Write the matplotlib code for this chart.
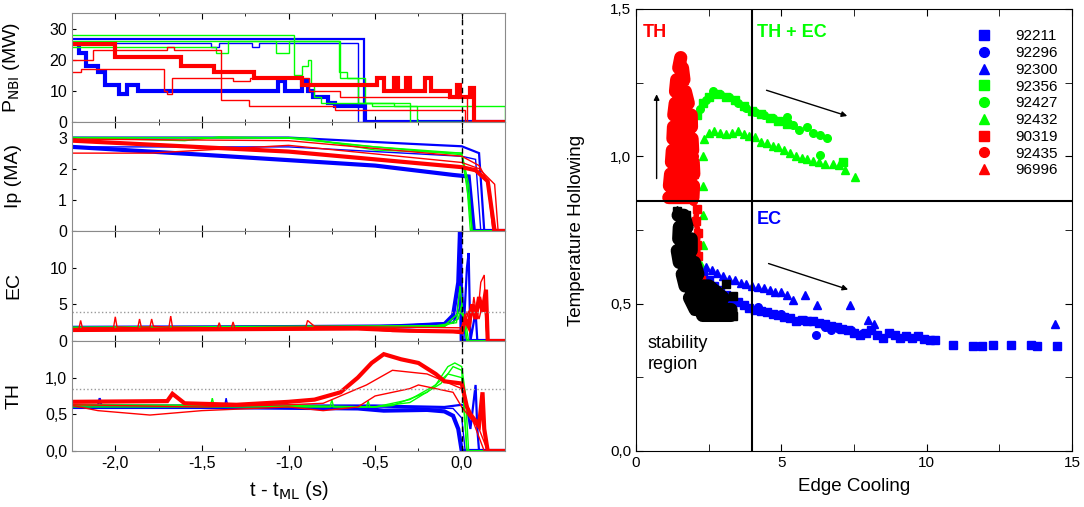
import numpy as np
import matplotlib
matplotlib.use("Agg")
import matplotlib.pyplot as plt
from matplotlib.lines import Line2D
from matplotlib.ticker import FuncFormatter, MultipleLocator

plt.rcParams['font.family'] = ['Liberation Sans', 'DejaVu Sans']
plt.rcParams['axes.unicode_minus'] = False

BLUE, GREEN, RED = '#0000ff', '#00ff00', '#ff0000'

# ---------------- left: time traces (t - t_ML in s) ----------------
# P_NBI (MW), step traces
nbi_t_b1 = [-2.25, -2.21, -2.17, -2.10, -2.06, -1.98, -1.93, -1.87, -1.06, -1.02, -0.92, -0.89, -0.86, -0.77, -0.73, -0.56, 0.25]
nbi_b1 = [25, 22, 18, 16, 12, 9, 12, 10, 13, 10, 13, 10, 8, 6, 5, 0, 0]
nbi_t_b2 = [-2.25, -0.565, 0.25]
nbi_b2 = [26.5, 0, 0]
nbi_t_b3 = [-2.25, -1.45, -1.40, -1.21, -1.17, -0.60, 0.25]
nbi_b3 = [25.5, 24, 25.5, 24, 25.5, 0, 0]
nbi_t_g1 = [-2.25, -0.97, -0.92, -0.89, -0.87, -0.85, -0.81, -0.30, 0.25]
nbi_g1 = [28, 15, 18, 20, 12, 8, 6, 0, 0]
nbi_t_g2 = [-2.25, -0.71, -0.66, -0.56, -0.52, -0.26, 0.25]
nbi_g2 = [26, 16, 14, 6, 5, 0, 0]
nbi_t_g3 = [-2.25, -1.42, -1.35, -1.07, -1.00, -0.70, -0.60, -0.39, 0.25]
nbi_g3 = [24, 22, 26, 22, 26, 14, 6, 5, 0]
nbi_t_r1 = [-2.25, -2.00, -1.62, -1.43, -1.20, -0.92, -0.49, -0.45, -0.39, -0.37, -0.32, -0.30, -0.21, -0.18, -0.07, -0.03, -0.01, 0.03, 0.05, 0.07, 0.25]
nbi_r1 = [25, 21, 18, 16, 14, 12, 14, 10, 14, 10, 14, 10, 14, 10, 8, 12, 8, 8, 11, 0, 0]
nbi_t_r2 = [-2.25, -2.13, -1.70, -1.66, -1.39, -1.23, -0.73, 0.02, 0.25]
nbi_r2 = [20, 23, 24, 23, 7, 5, 4, 0, 0]
nbi_t_r3 = [-2.25, -2.20, -1.72, -1.70, -1.67, -1.32, -1.22, -0.88, -0.70, 0.03, 0.25]
nbi_r3 = [16, 17, 10, 9, 14, 13, 14, 10, 8, 0, 0]

# Ip (MA)
ip_t_b1 = [-2.25, -1.5, -0.5, -0.05, 0.04, 0.07, 0.25]
ip_b1 = [2.7, 2.45, 2.1, 1.8, 1.75, 0, 0]
ip_t_b2 = [-2.25, -1.0, -0.3, 0.0, 0.10, 0.13, 0.25]
ip_b2 = [3.0, 3.0, 2.8, 2.72, 2.5, 0, 0]
ip_t_b3 = [-2.25, -1.0, 0.0, 0.08, 0.11, 0.25]
ip_b3 = [2.7, 2.7, 2.4, 2.3, 0, 0]
ip_t_g1 = [-2.25, -1.0, -0.5, 0.0, 0.04, 0.06, 0.25]
ip_g1 = [3.0, 3.0, 2.7, 2.5, 1.5, 0, 0]
ip_t_g2 = [-2.25, -1.6, -1.4, -1.0, -0.6, 0.0, 0.03, 0.05, 0.25]
ip_g2 = [3.0, 2.9, 3.02, 2.98, 2.75, 2.45, 1.5, 0, 0]
ip_t_g3 = [-2.25, -0.9, -0.5, 0.0, 0.04, 0.06, 0.25]
ip_g3 = [3.0, 2.98, 2.6, 2.5, 1.0, 0, 0]
ip_t_r1 = [-2.25, -1.0, 0.0, 0.08, 0.15, 0.19, 0.25]
ip_r1 = [2.9, 2.55, 2.05, 1.95, 1.6, 0, 0]
ip_t_r2 = [-2.25, -1.8, -1.0, 0.0, 0.10, 0.19, 0.21, 0.25]
ip_r2 = [2.5, 2.5, 2.75, 2.2, 2.0, 1.5, 0, 0]
ip_t_r3 = [-2.25, -1.0, 0.0, 0.10, 0.15, 0.18, 0.25]
ip_r3 = [2.95, 2.9, 2.4, 2.1, 1.6, 0, 0]

# EC
ec_t_b1 = [-2.25, -1.0, -0.3, -0.1, -0.05, -0.02, -0.01, 0.0, 0.25]
ec_b1 = [1.8, 1.9, 2.0, 2.3, 3.5, 8, 15, 0, 0]
ec_t_b2 = [-2.25, -0.5, -0.05, 0.0, 0.01, 0.03, 0.04, 0.05, 0.08, 0.09, 0.25]
ec_b2 = [1.8, 2.0, 2.5, 5, 1, 10, 12, 0, 4, 0, 0]
ec_t_b3 = [-2.25, -0.1, -0.03, 0.0, 0.02, 0.25]
ec_b3 = [1.7, 2.0, 3.5, 9, 0, 0]
ec_t_g1 = [-2.25, -0.2, -0.03, -0.01, 0.01, 0.03, 0.25]
ec_g1 = [1.8, 1.9, 2.5, 7.5, 3, 0, 0]
ec_t_g2 = [-2.25, -0.1, -0.02, 0.0, 0.03, 0.25]
ec_g2 = [1.8, 2.0, 3, 5, 0, 0]
ec_t_g3 = [-2.25, -0.1, -0.01, 0.02, 0.04, 0.25]
ec_g3 = [1.9, 2.1, 4, 3, 0, 0]
ec_t_r1 = [-2.25, -0.6, -0.3, -0.05, 0.0, 0.02, 0.04, 0.06, 0.08, 0.10, 0.12, 0.14, 0.15, 0.25]
ec_r1 = [1.5, 1.7, 1.4, 1.3, 1.2, 3, 2, 5, 3, 6, 4, 7, 0, 0]
ec_t_r2 = [-2.25, -2.21, -2.20, -2.19, -2.01, -2.00, -1.99, -1.87, -1.86, -1.85, -1.80, -1.79, -1.78,
           -1.69, -1.68, -1.67, -1.41, -1.40, -1.39, -1.33, -1.32, -1.31, -0.90, -0.89, -0.85,
           0.0, 0.03, 0.05, 0.07, 0.09, 0.11, 0.13, 0.14, 0.15, 0.25]
ec_r2 = [1.7, 1.7, 2.8, 1.8, 1.8, 3.3, 1.9, 1.8, 3.0, 1.9, 1.9, 3.0, 2.0,
         1.9, 3.4, 1.9, 1.8, 2.5, 1.8, 1.8, 2.6, 1.8, 1.9, 2.8, 2.0,
         1.8, 4, 2, 6, 3, 8, 9, 2, 0, 0]
ec_t_r3 = [-2.25, -0.6, -0.4, -0.1, 0.0, 0.04, 0.07, 0.1, 0.13, 0.15, 0.25]
ec_r3 = [1.6, 1.7, 1.3, 1.3, 1.5, 4, 5, 3, 6, 0, 0]

# TH
th_t_b1 = [-2.25, -1.5, -0.6, -0.45, -0.2, -0.1, -0.05, -0.02, 0.0, 0.25]
th_b1 = [0.6, 0.6, 0.58, 0.55, 0.56, 0.54, 0.48, 0.3, 0, 0]
th_t_b2 = [-2.25, -2.1, -2.09, -2.08, -0.5, -0.1, 0.0, 0.03, 0.05, 0.08, 0.09, 0.10, 0.25]
th_b2 = [0.62, 0.62, 0.72, 0.62, 0.62, 0.6, 0.63, 0.6, 0.3, 0.9, 0.3, 0, 0]
th_t_b3 = [-2.25, -1.37, -1.36, -1.35, -0.5, -0.05, 0.0, 0.02, 0.25]
th_b3 = [0.6, 0.6, 0.72, 0.6, 0.6, 0.58, 0.45, 0, 0]
th_t_g1 = [-2.25, -1.0, -0.5, -0.3, -0.15, -0.08, -0.04, 0.0, 0.02, 0.04, 0.25]
th_g1 = [0.63, 0.62, 0.6, 0.7, 0.9, 1.15, 1.2, 1.15, 0.8, 0, 0]
th_t_g2 = [-2.25, -1.45, -1.44, -1.43, -0.5, -0.3, -0.12, -0.05, 0.0, 0.03, 0.25]
th_g2 = [0.62, 0.62, 0.72, 0.62, 0.6, 0.66, 0.92, 1.15, 1.1, 0, 0]
th_t_g3 = [-2.25, -0.76, -0.75, -0.74, -0.55, -0.54, -0.53, -0.4, -0.2, -0.08, 0.0, 0.03, 0.25]
th_g3 = [0.6, 0.6, 0.7, 0.6, 0.6, 0.68, 0.6, 0.62, 0.8, 1.05, 1.0, 0, 0]
th_t_r1 = [-2.25, -1.7, -1.67, -1.6, -1.3, -1.0, -0.85, -0.7, -0.6, -0.52, -0.45, -0.35, -0.25,
           -0.15, -0.1, 0.0, 0.03, 0.05, 0.1, 0.12, 0.13, 0.15, 0.25]
th_r1 = [0.67, 0.68, 0.78, 0.65, 0.63, 0.67, 0.7, 0.8, 1.0, 1.2, 1.32, 1.25, 1.2,
         1.05, 0.95, 0.92, 0.6, 0.5, 0.35, 0.8, 0.3, 0, 0]
th_t_r2 = [-2.25, -2.1, -1.8, -1.5, -1.0, -0.8, -0.6, -0.5, -0.3, -0.25, -0.15, -0.05, 0.0, 0.1, 0.15, 0.25]
th_r2 = [0.62, 0.55, 0.49, 0.55, 0.6, 0.55, 0.6, 0.75, 0.85, 0.9, 0.85, 0.8, 0.6, 0.3, 0, 0]
th_t_r3 = [-2.25, -1.5, -1.0, -0.8, -0.55, -0.4, -0.2, 0.0, 0.05, 0.13, 0.25]
th_r3 = [0.63, 0.6, 0.63, 0.65, 0.9, 1.1, 1.05, 0.85, 0.5, 0, 0]

# ---------------- right: TH vs EC scatter ----------------
s92211_x = [2.3, 2.5, 2.7, 2.9, 3.1, 3.3, 3.5, 3.7, 3.9, 4.1, 4.3, 4.5, 4.7, 4.9, 5.1, 5.3, 5.5, 5.7, 5.9, 6.1,
            6.3, 6.5, 6.7, 6.9, 7.1, 7.3, 7.5, 7.7, 7.9, 8.1, 8.3, 8.5, 8.7, 8.9, 9.1, 9.3, 9.5, 9.7, 9.9, 10.1,
            10.3, 10.9, 11.6, 11.9, 12.3, 12.9, 13.6, 13.8, 14.5]
s92211_y = [0.60, 0.58, 0.56, 0.545, 0.53, 0.515, 0.505, 0.495, 0.485, 0.48, 0.475, 0.47, 0.465, 0.46, 0.455,
            0.45, 0.44, 0.445, 0.44, 0.44, 0.435, 0.43, 0.425, 0.42, 0.415, 0.41, 0.40, 0.395, 0.40, 0.41,
            0.395, 0.385, 0.40, 0.395, 0.385, 0.39, 0.385, 0.39, 0.38, 0.375, 0.378, 0.36, 0.355, 0.357,
            0.36, 0.36, 0.36, 0.355, 0.355]
s92296_x = [4.2, 5.0, 5.8, 6.19, 6.5, 6.7, 7.0, 7.4, 7.8, 8.3]
s92296_y = [0.49, 0.465, 0.445, 0.392, 0.42, 0.409, 0.415, 0.41, 0.40, 0.395]
s92300_x = [2.2, 2.4, 2.6, 2.8, 3.0, 3.2, 3.4, 3.6, 3.8, 4.0, 4.2, 4.4, 4.6, 4.8, 5.0, 5.2,
            5.41, 5.81, 6.22, 7.36, 7.99, 8.2, 14.42]
s92300_y = [0.62, 0.625, 0.615, 0.605, 0.595, 0.585, 0.58, 0.57, 0.565, 0.56, 0.555, 0.553, 0.545, 0.54,
            0.54, 0.53, 0.514, 0.531, 0.497, 0.497, 0.445, 0.43, 0.432]
s92356_x = [2.1, 2.3, 2.5, 2.8, 3.1, 3.4, 3.7, 4.0, 4.3, 4.6, 4.9, 5.2, 7.13]
s92356_y = [1.14, 1.18, 1.20, 1.21, 1.20, 1.19, 1.17, 1.155, 1.145, 1.13, 1.12, 1.11, 0.98]
s92427_x = [2.2, 2.4, 2.66, 2.9, 3.2, 3.5, 3.8, 4.1, 4.4, 4.7, 5.0, 5.18, 5.41, 5.6, 5.87, 6.1, 6.33, 6.56, 6.33]
s92427_y = [1.16, 1.19, 1.22, 1.21, 1.2, 1.18, 1.165, 1.15, 1.14, 1.13, 1.12, 1.135, 1.106, 1.09, 1.10,
            1.08, 1.073, 1.062, 1.005]
s92432_x = [2.25, 2.3, 2.3, 2.3, 2.3, 2.35, 2.5, 2.7, 2.9, 3.1, 3.3, 3.5, 3.7, 3.9, 4.1, 4.3, 4.5, 4.7,
            4.9, 5.1, 5.3, 5.5, 5.7, 5.9, 6.1, 6.3, 6.5, 6.79, 7.0, 7.2, 7.53]
s92432_y = [0.63, 0.7, 0.8, 0.9, 1.0, 1.06, 1.08, 1.085, 1.08, 1.075, 1.08, 1.085, 1.075, 1.07, 1.065,
            1.05, 1.045, 1.035, 1.03, 1.02, 1.01, 1.0, 0.995, 0.99, 0.985, 0.98, 0.975, 0.975, 0.97,
            0.955, 0.93]
s90319_x = [2.1, 2.05, 2.15, 2.1, 2.15, 2.1, 2.25]
s90319_y = [0.82, 0.78, 0.74, 0.70, 0.66, 0.62, 0.58]
s92435_x = [1.2, 1.8, 1.3, 2.0, 1.6, 1.4, 1.8, 1.55, 1.95]
s92435_y = [0.9, 0.93, 0.98, 1.0, 1.05, 1.18, 1.18, 1.28, 0.85]
s96996_x = [1.13, 1.96, 1.98, 1.15, 1.19, 1.99, 1.97, 1.22, 1.25, 1.95, 1.93, 1.27, 1.29, 1.91,
            1.9, 1.3, 1.35, 1.8, 1.7, 1.36, 1.4, 1.65, 1.6, 1.47, 1.54]
s96996_y = [0.86, 0.86, 0.90, 0.90, 0.94, 0.94, 0.98, 0.98, 1.02, 1.02, 1.06, 1.06, 1.10, 1.10,
            1.14, 1.14, 1.18, 1.18, 1.22, 1.22, 1.26, 1.26, 1.30, 1.30, 1.335]
# stability region points (black)
stab_tri_x = [1.45, 1.65, 1.76, 1.49, 1.47, 1.9, 1.9, 1.42, 1.49, 2.01, 2.13, 1.59, 1.69, 2.51,
              3.0, 1.84, 2.04, 3.27, 3.27, 2.29]
stab_tri_y = [0.80, 0.80, 0.76, 0.76, 0.72, 0.72, 0.68, 0.68, 0.64, 0.64, 0.60, 0.60, 0.56, 0.56,
              0.52, 0.52, 0.48, 0.48, 0.46, 0.46]
stab_sq_x = [3.08, 3.35, 3.35, 2.83, 1.42, 1.72]
stab_sq_y = [0.565, 0.525, 0.457, 0.457, 0.815, 0.80]

# ---------------- figure ----------------
fig = plt.figure(figsize=(10.84, 5.07), dpi=100)
L, W = 0.0664, 0.3995
boxes = [(0.7594, 0.2150), (0.5444, 0.2150), (0.3274, 0.2170), (0.1105, 0.2170)]

order = [('b2', BLUE, 1.6), ('b3', BLUE, 1.0), ('b1', BLUE, 3.0),
         ('g1', GREEN, 1.0), ('g2', GREEN, 1.0), ('g3', GREEN, 1.0),
         ('r2', RED, 1.0), ('r3', RED, 1.0), ('r1', RED, 3.0)]
g = globals()
panels = [('nbi', r'P$_{\rm NBI}$ (MW)', (0, 35), [0, 10, 20, 30], None, True),
          ('ip', 'Ip (MA)', (0, 3.5), [0, 1, 2, 3], None, False),
          ('ec', 'EC', (0, 15), [0, 5, 10], 4.0, False),
          ('th', 'TH', (0, 1.5), [0, 0.5, 1.0], 0.85, False)]

comma = FuncFormatter(lambda v, p: f"{v:.1f}".replace('.', ','))
axes = []
for (bot, h), (key, lab, ylim, yt, thr, steps) in zip(boxes, panels):
    ax = fig.add_axes([L, bot, W, h])
    for name, c, lw in order:
        t = g[f'{key}_t_{name}']
        v = g[f'{key}_{name}']
        ax.plot(t, v, color=c, lw=lw, drawstyle='steps-post' if steps else 'default',
                solid_joinstyle='miter')
    if thr is not None:
        ax.axhline(thr, color='#999999', ls=':', lw=1)
    ax.axvline(0, color='k', ls=(0, (4, 3)), lw=1)
    ax.set_xlim(-2.25, 0.25)
    ax.set_ylim(*ylim)
    ax.set_yticks(yt)
    ax.xaxis.set_major_locator(MultipleLocator(0.5))
    ax.xaxis.set_minor_locator(MultipleLocator(0.25))
    ax.tick_params(axis='x', which='both', direction='in', top=True, bottom=True, labelsize=11.5)
    ax.tick_params(axis='x', which='major', length=4)
    ax.tick_params(axis='x', which='minor', length=2.5)
    ax.tick_params(axis='y', direction='in', length=3, labelsize=11.5)
    for s in ax.spines.values():
        s.set_color('#8a8a8a')
    ax.set_ylabel(lab, fontsize=14)
    ax.yaxis.set_label_coords(-0.115, 0.5)
    if key != 'th':
        ax.tick_params(axis='x', labelbottom=False)
    else:
        ax.xaxis.set_major_formatter(comma)
        ax.yaxis.set_major_formatter(comma)
        ax.set_xlabel(r't - t$_{\rm ML}$ (s)', fontsize=14.5, labelpad=6)
    axes.append(ax)

# right panel
ax2 = fig.add_axes([0.5867, 0.1105, 0.4022, 0.8718])
ms = 5.5
series = [('92211', s92211_x, s92211_y, BLUE, 's'),
          ('92296', s92296_x, s92296_y, BLUE, 'o'),
          ('92300', s92300_x, s92300_y, BLUE, '^'),
          ('92356', s92356_x, s92356_y, GREEN, 's'),
          ('92427', s92427_x, s92427_y, GREEN, 'o'),
          ('92432', s92432_x, s92432_y, GREEN, '^'),
          ('90319', s90319_x, s90319_y, RED, 's'),
          ('92435', s92435_x, s92435_y, RED, 'o'),
          ('96996', s96996_x, s96996_y, RED, '^')]
for lab, x, y, c, m in series[3:6] + series[0:3]:
    ax2.plot(x, y, ls='none', marker=m, color=c, ms=ms, mec=c)
for (lab, x, y, c, m), lw in zip(series[6:], [4, 0, 9.5]):
    ax2.plot(x, y, ls='-' if lw else 'none', lw=lw, color=c, solid_capstyle='round',
             solid_joinstyle='round', marker=m, ms=ms)
ax2.plot(stab_tri_x, stab_tri_y, ls='-', lw=9.5, color='k', solid_capstyle='round',
         solid_joinstyle='round', marker='^', ms=ms)
ax2.plot(stab_sq_x, stab_sq_y, ls='none', marker='s', color='k', ms=ms)
ax2.plot(stab_sq_x[-2:], stab_sq_y[-2:], ls='none', marker='^', color='k', ms=ms + 2)

ax2.axhline(0.85, color='k', lw=1.5, zorder=5)
ax2.axvline(4.0, color='k', lw=1.5, zorder=5)

arrow = dict(arrowstyle='-|>', color='k', lw=1, mutation_scale=8)
ax2.annotate('', xy=(0.71, 1.22), xytext=(0.71, 0.915), arrowprops=arrow)
ax2.annotate('', xy=(7.36, 1.134), xytext=(4.40, 1.227), arrowprops=arrow)
ax2.annotate('', xy=(7.39, 0.545), xytext=(4.47, 0.639), arrowprops=arrow)

ax2.text(0.25, 1.42, 'TH', color=RED, fontsize=13, fontweight='bold', va='center')
ax2.text(4.15, 1.42, 'TH + EC', color=GREEN, fontsize=13, fontweight='bold', va='center')
ax2.text(4.15, 0.787, 'EC', color=BLUE, fontsize=13, fontweight='bold', va='center')
ax2.text(0.4, 0.33, 'stability\nregion', color='k', fontsize=13, va='center', linespacing=1.3)

ax2.set_xlim(0, 15)
ax2.set_ylim(0, 1.5)
ax2.xaxis.set_major_locator(MultipleLocator(5))
ax2.xaxis.set_minor_locator(MultipleLocator(2.5))
ax2.yaxis.set_major_locator(MultipleLocator(0.5))
ax2.yaxis.set_minor_locator(MultipleLocator(0.25))
ax2.yaxis.set_major_formatter(comma)
ax2.tick_params(which='both', direction='in', top=True, right=True, labelsize=11)
ax2.tick_params(which='major', length=5)
ax2.tick_params(which='minor', length=5)
ax2.set_xlabel('Edge Cooling', fontsize=13.5, labelpad=6)
ax2.set_ylabel('Temperature Hollowing', fontsize=13.5)
ax2.yaxis.set_label_coords(-0.117, 0.5)

handles = [Line2D([], [], ls='none', marker=m, color=c, ms=7) for _, _, _, c, m in series]
ax2.legend(handles, [s[0] for s in series], loc='upper right', bbox_to_anchor=(1.0, 0.985),
           frameon=False, fontsize=11, handlelength=1.0, handletextpad=1.6, labelspacing=0.18)

fig.savefig('out.png', dpi=100)
